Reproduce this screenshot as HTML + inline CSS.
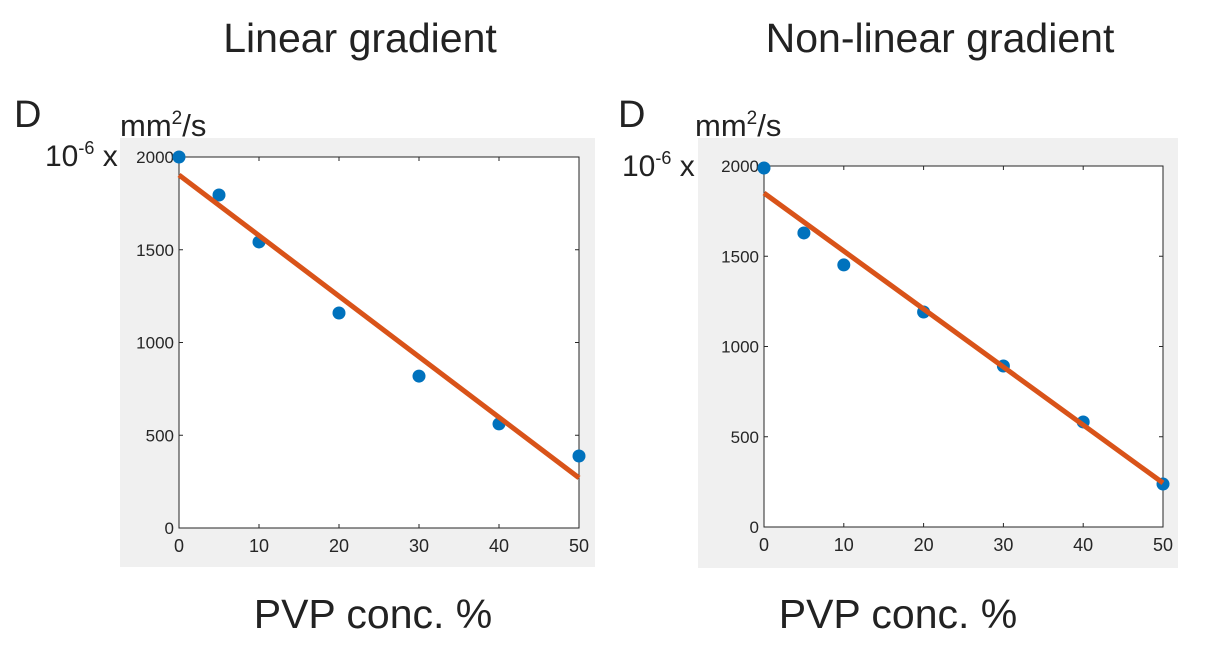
<!DOCTYPE html>
<html><head><meta charset="utf-8"><style>
body{margin:0;background:#fff;width:1208px;height:664px;overflow:hidden;font-family:"Liberation Sans",Arial,sans-serif}
svg text{font-family:"Liberation Sans",Arial,sans-serif}
</style></head><body>
<svg id="s" width="1208" height="664"></svg>
<script>
const xCats=[0,5,10,20,30,40,50];
const linVals=[2000,1795,1542,1159,819,561,388];
const linFit=[1903,270];
const nonVals=[1989,1629,1452,1191,892,582,238];
const nonFit=[1850,244];
const xTicks=[0,10,20,30,40,50];
const yTicks=[0,500,1000,1500,2000];
const NS='http://www.w3.org/2000/svg';
const svg=document.getElementById('s');
function mk(t,a,txt){const e=document.createElementNS(NS,t);for(const k in a)e.setAttribute(k,a[k]);if(txt!==undefined)e.textContent=txt;svg.appendChild(e);return e;}
function panel(p){
 const bg=mk('rect',{x:p.bx,y:p.by,width:p.bw,height:p.bh,fill:'#f0f0f0'});
 
 
 const ax=mk('rect',{x:p.x0,y:p.y0,width:p.x1-p.x0,height:p.y1-p.y0,fill:'#fff',stroke:'#262626','stroke-width':1});
 
 
 const X=v=>p.x0+(v-0)/50*(p.x1-p.x0);
 const Y=v=>p.y1-(v/2000)*(p.y1-p.y0);
 xTicks.forEach(t=>{
  mk('line',{x1:X(t),x2:X(t),y1:p.y1,y2:p.y1-4,stroke:'#262626'});
  mk('line',{x1:X(t),x2:X(t),y1:p.y0,y2:p.y0+4,stroke:'#262626'});
  const l=mk('text',{x:X(t),y:p.y1+24,'text-anchor':'middle','font-size':18,fill:'#262626'},t);
  
  
 });
 yTicks.forEach(t=>{
  mk('line',{x1:p.x0,x2:p.x0+4,y1:Y(t),y2:Y(t),stroke:'#262626'});
  mk('line',{x1:p.x1,x2:p.x1-4,y1:Y(t),y2:Y(t),stroke:'#262626'});
  const l=mk('text',{x:p.x0-5,y:Y(t)+6,'text-anchor':'end','font-size':17,fill:'#262626'},t);
  
  
 });
 p.vals.forEach((v,i)=>{
  const c=mk('circle',{cx:X(xCats[i]),cy:Y(v),r:6.5,fill:'#0072bd'});
  
  
 });
 const ln=mk('line',{x1:X(0),y1:Y(p.fit[0]),x2:X(50),y2:Y(p.fit[1]),stroke:'#d95319','stroke-width':5});
 
 
 const t=mk('text',{x:p.tx,y:52,'text-anchor':'middle','font-size':41,fill:'#222'},p.title);
 
 
 const d=mk('text',{x:p.dx,y:127,'font-size':38,fill:'#222'},'D');
 
 
 const u=mk('text',{x:p.ux,y:136,'font-size':31,fill:'#222'});
 u.innerHTML='mm<tspan font-size="19" dy="-12">2</tspan><tspan dy="12">/s</tspan>';
 
 
 const e=mk('text',{x:p.ex,y:p.ey,'font-size':30,fill:'#222'});
 e.innerHTML='10<tspan font-size="18" dy="-12">-6</tspan><tspan dy="12"> x</tspan>';
 
 
 const xl=mk('text',{x:p.lx,y:628,'text-anchor':'middle','font-size':41,fill:'#222'},'PVP conc. %');
 
 
}
panel({id:'linear',bx:120,by:138,bw:475,bh:429,x0:179,x1:579,y0:157,y1:528,vals:linVals,fit:linFit,title:'Linear gradient',tx:360,lx:373,dx:14,ux:120,ex:45,ey:166});
panel({id:'nonlinear',bx:698,by:138,bw:480,bh:430,x0:764,x1:1163,y0:166,y1:527,vals:nonVals,fit:nonFit,title:'Non-linear gradient',tx:940,lx:898,dx:618,ux:695,ex:622,ey:176});
</script>
</body></html>
